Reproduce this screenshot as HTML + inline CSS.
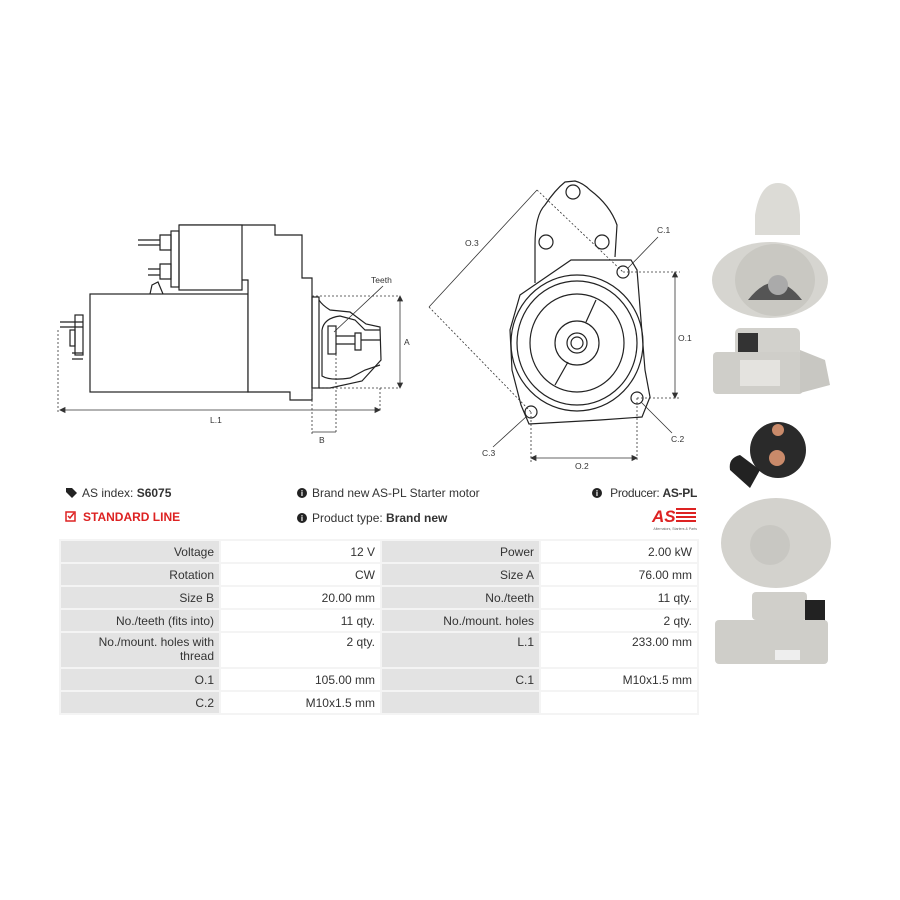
<!DOCTYPE html>
<html><head><meta charset="utf-8"><style>
body{margin:0;background:#fff;font-family:"Liberation Sans",sans-serif;}
#w{position:relative;width:900px;height:900px;overflow:hidden;}
.t{position:absolute;font-size:12px;color:#333;white-space:nowrap;}
table{position:absolute;left:59px;top:539px;border-collapse:collapse;font-size:12px;color:#333;}
td{border:2px solid #f4f4f4;text-align:right;padding:0 5px;height:21px;line-height:14px;}
td.l{background:#e3e3e3;}
td.v{background:#fff;}
</style></head><body><div id="w">
<svg width="900" height="900" style="position:absolute;left:0;top:0" font-family="Liberation Sans, sans-serif">
<g fill="none" stroke="#222" stroke-width="1.2">
<rect x="90" y="294" width="158" height="98" fill="#fff"/>
<path d="M179 225 L275 225 L275 235 L302 235 L302 278 L312 278 L312 400 L290 400 L290 392 L248 392 L248 280 L242 280" fill="#fff"/>
<rect x="179" y="225" width="63" height="65" fill="#fff"/>
<rect x="171" y="231" width="8" height="56"/>
<path d="M160 235 L171 235 L171 250 L160 250 Z M160 264 L171 264 L171 279 L160 279 Z"/>
<path d="M138 240 L160 240 M138 245 L160 245 M148 269 L160 269 M148 275 L160 275"/>
<path d="M150 294 L152 285 L158 282 L163 294"/>
<rect x="312" y="297" width="7" height="91"/>
<path d="M319 300 Q322 305 330 310 L350 312 L366 324 L380 327 L381 360 L372 370 L362 381 L330 388 L319 388"/>
<path d="M322 330 Q324 318 340 316 L355 320 L365 330 L380 330 M322 330 L322 376 Q330 381 350 378 L365 370 L380 365"/>
<rect x="328" y="326" width="8" height="28"/>
<path d="M336 336 L355 336 M336 344 L355 344 M355 333 L361 333 L361 350 L355 350 Z M361 340 L380 340"/>
<rect x="75" y="315" width="8" height="40"/>
<rect x="70" y="330" width="5" height="16"/>
<path d="M60 322 L83 322 M60 327 L83 327 M72 353 L83 353 M72 359 L83 359"/>
<path d="M535 283 L535 245 Q535 215 545 205 Q555 190 565 182 L575 181 Q583 183 590 190 Q610 205 617 225 L615 257" fill="#fff"/>
<circle cx="573" cy="192" r="7"/>
<circle cx="546" cy="242" r="7"/>
<circle cx="602" cy="242" r="7"/>
<path d="M571 260 L631 260 L637 270 L645 370 L650 397 L642 417 L600 420 L529 424 L521 405 L512 370 L510 330 L520 295 Z" fill="#fff"/>
<ellipse cx="577" cy="343" rx="66" ry="68"/>
<ellipse cx="577" cy="343" rx="60" ry="62"/>
<ellipse cx="577" cy="343" rx="47" ry="49"/>
<path d="M596 300 L586 322 M568 362 L555 385"/>
<circle cx="577" cy="343" r="22"/>
<circle cx="577" cy="343" r="10"/>
<circle cx="577" cy="343" r="6"/>
<circle cx="623" cy="272" r="6"/>
<circle cx="637" cy="398" r="6"/>
<circle cx="531" cy="412" r="6"/>
</g>
<g fill="none" stroke="#333" stroke-width="0.8" stroke-dasharray="2,2">
<path d="M58 330 L58 412 M380 388 L380 412 M312 388 L312 434 M336 350 L336 434 M312 296 L400 296 M312 388 L400 388"/>
<path d="M623 272 L680 272 M637 398 L680 398 M531 412 L531 462 M637 398 L637 462"/>
<path d="M429 307 L531 412 M537 190 L623 272"/>
</g>
<g stroke="#333" stroke-width="0.8" fill="#333">
<path d="M60 410 L380 410 M400 296 L400 388 M312 432 L336 432 M675 272 L675 398 M531 458 L637 458 M429 307 L537 190" fill="none"/>
<path d="M60 410 l5 -2.5 l0 5 Z M380 410 l-5 -2.5 l0 5 Z M400 296 l-2.5 5 l5 0 Z M400 388 l-2.5 -5 l5 0 Z M675 272 l-2.5 5 l5 0 Z M675 398 l-2.5 -5 l5 0 Z M531 458 l5 -2.5 l0 5 Z M637 458 l-5 -2.5 l0 5 Z"/>
<path d="M383 286 L334 332 M658 237 L628 268 M672 433 L641 402 M493 447 L527 416" fill="none"/>
</g>
<g font-size="8.5" fill="#333">
<text x="371" y="283">Teeth</text>
<text x="210" y="423">L.1</text>
<text x="404" y="345">A</text>
<text x="319" y="443">B</text>
<text x="465" y="246">O.3</text>
<text x="657" y="233">C.1</text>
<text x="678" y="341">O.1</text>
<text x="671" y="442">C.2</text>
<text x="482" y="456">C.3</text>
<text x="575" y="469">O.2</text>
</g>
<g>
<path d="M755 215 Q760 183 778 183 Q797 183 800 215 L800 235 L755 235 Z" fill="#dcdbd6"/>
<ellipse cx="770" cy="280" rx="58" ry="38" fill="#d6d5d0"/>
<ellipse cx="775" cy="280" rx="40" ry="36" fill="#c9c8c2"/>
<path d="M748 300 Q775 265 802 300 Z" fill="#555"/>
<circle cx="778" cy="285" r="10" fill="#aaa"/>
<rect x="735" y="328" width="65" height="28" rx="5" fill="#d2d1cc"/>
<rect x="738" y="333" width="20" height="20" fill="#333"/>
<rect x="713" y="352" width="90" height="42" rx="4" fill="#cfcec9"/>
<rect x="740" y="360" width="40" height="26" fill="#e4e3df"/>
<path d="M800 350 L825 360 L830 385 L800 393 Z" fill="#c8c7c2"/>
<circle cx="778" cy="450" r="28" fill="#2a2a2a"/>
<circle cx="778" cy="430" r="6" fill="#c98a6a"/>
<circle cx="777" cy="458" r="8" fill="#c98a6a"/>
<path d="M730 470 Q728 458 740 455 L760 470 L750 488 Z" fill="#222"/>
<ellipse cx="776" cy="543" rx="55" ry="45" fill="#d3d2cd"/>
<circle cx="770" cy="545" r="20" fill="#c8c7c2"/>
<rect x="752" y="592" width="55" height="28" rx="4" fill="#d0cfca"/>
<rect x="805" y="600" width="20" height="30" fill="#222"/>
<rect x="715" y="620" width="113" height="44" rx="4" fill="#cfcec9"/>
<rect x="775" y="650" width="25" height="10" fill="#eee"/>
</g>
<path d="M66 488 L72 488 L77 493 L72 498 L66 492 Z" fill="#222"/>
<rect x="66" y="512" width="9" height="9" fill="none" stroke="#d22" stroke-width="1.5"/>
<path d="M68 516 L70 518 L74 513" stroke="#d22" stroke-width="1.5" fill="none"/>
<circle cx="302" cy="493" r="5" fill="#222"/><circle cx="302" cy="518" r="5" fill="#222"/><circle cx="597" cy="493" r="5" fill="#222"/>
<text x="302" y="496" font-size="8" fill="#fff" text-anchor="middle" font-weight="bold">i</text>
<text x="302" y="521" font-size="8" fill="#fff" text-anchor="middle" font-weight="bold">i</text>
<text x="597" y="496" font-size="8" fill="#fff" text-anchor="middle" font-weight="bold">i</text>
<text x="652" y="522" font-size="17" font-weight="bold" font-style="italic" fill="#d22">AS</text>
<path d="M676 509 h20 M676 513 h20 M676 517 h20 M676 521 h20" stroke="#d22" stroke-width="2"/>
<text x="697" y="530" font-size="3.5" fill="#666" text-anchor="end">Alternators, Starters &amp; Parts</text>
</svg>
<div class="t" style="left:82px;top:486px">AS index: <b>S6075</b></div>
<div class="t" style="left:83px;top:510px;color:#d22;font-weight:bold">STANDARD LINE</div>
<div class="t" style="left:312px;top:486px">Brand new AS-PL Starter motor</div>
<div class="t" style="left:312px;top:511px">Product type: <b>Brand new</b></div>
<div class="t" style="right:203px;top:486px;letter-spacing:-0.3px">Producer: <b>AS-PL</b></div>
<table>
<colgroup><col style="width:160px"><col style="width:161px"><col style="width:159px"><col style="width:158px"></colgroup>
<tr><td class="l">Voltage</td><td class="v">12 V</td><td class="l">Power</td><td class="v">2.00 kW</td></tr>
<tr><td class="l">Rotation</td><td class="v">CW</td><td class="l">Size A</td><td class="v">76.00 mm</td></tr>
<tr><td class="l">Size B</td><td class="v">20.00 mm</td><td class="l">No./teeth</td><td class="v">11 qty.</td></tr>
<tr><td class="l">No./teeth (fits into)</td><td class="v">11 qty.</td><td class="l">No./mount. holes</td><td class="v">2 qty.</td></tr>
<tr><td class="l" style="height:32px;vertical-align:top;padding-top:2px">No./mount. holes with<br>thread</td><td class="v" style="vertical-align:top;padding-top:2px">2 qty.</td><td class="l" style="vertical-align:top;padding-top:2px">L.1</td><td class="v" style="vertical-align:top;padding-top:2px">233.00 mm</td></tr>
<tr><td class="l">O.1</td><td class="v">105.00 mm</td><td class="l">C.1</td><td class="v">M10x1.5 mm</td></tr>
<tr><td class="l">C.2</td><td class="v">M10x1.5 mm</td><td class="l"></td><td class="v"></td></tr>
</table>
</div></body></html>
